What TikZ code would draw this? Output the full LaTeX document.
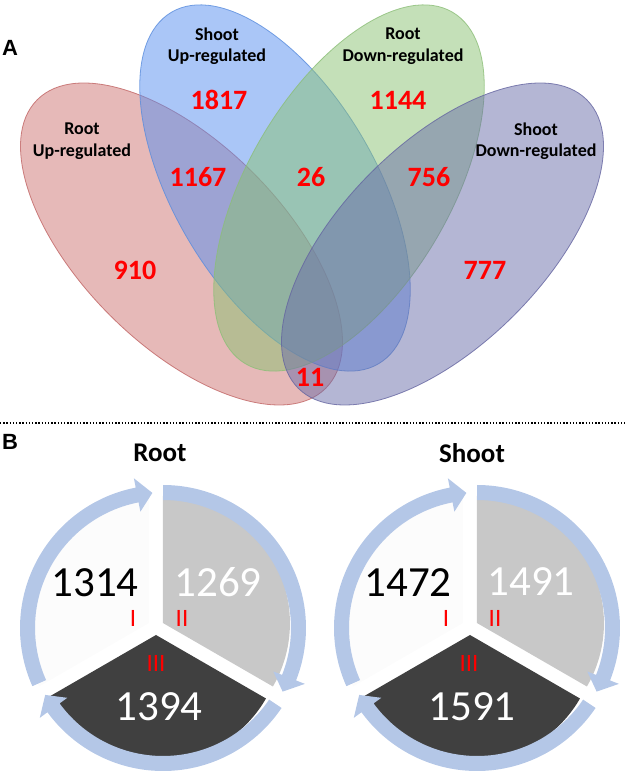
\documentclass[tikz,border=0pt]{standalone}
\usepackage{fontspec}
\setmainfont{Carlito}
\newfontfamily\panelfont{Liberation Sans}
\definecolor{vred}{RGB}{192,80,77}
\definecolor{vredline}{RGB}{192,100,100}
\definecolor{vblue}{RGB}{85,142,240}
\definecolor{vblueline}{RGB}{90,140,220}
\definecolor{vgreen}{RGB}{137,193,113}
\definecolor{vgreenline}{RGB}{140,190,120}
\definecolor{vpurple}{RGB}{105,109,169}
\definecolor{vpurpleline}{RGB}{100,100,160}
\definecolor{arrowblue}{RGB}{180,199,231}
\definecolor{secone}{RGB}{252,252,252}
\definecolor{sectwo}{RGB}{200,200,200}
\definecolor{secthree}{RGB}{64,64,64}
\definecolor{numred}{RGB}{255,0,0}
\newcommand{\ringarrow}[2]{%
  \fill[arrowblue] (#1:143) arc[start angle=#1, end angle={#2+6.5}, radius=143]
    -- ({#2+6.5}:152.5) -- (#2:135.5) -- ({#2+6.5}:118.5) -- ({#2+6.5}:128)
    arc[start angle={#2+6.5}, end angle=#1, radius=128] -- cycle;}
\newcommand{\pieset}[8]{%
  \begin{scope}[shift={(#1,0)}]
    \begin{scope}[shift={(156,152)}]
      \fill[secone] (-6.93,4) -- ++(90:127) arc[start angle=90, end angle=210, radius=127] -- cycle;
      \fill[sectwo] (6.93,4) -- ++(-30:127) arc[start angle=-30, end angle=90, radius=127] -- cycle;
      \fill[secthree] (0,-8) -- ++(210:127) arc[start angle=210, end angle=330, radius=127] -- cycle;
    \end{scope}
    \begin{scope}[shift={(163,151)}]
      \ringarrow{204}{94.5}
      \ringarrow{90}{-28}
      \ringarrow{-34}{-150.4}
    \end{scope}
    \node[pietitle] (#2title) at (#3,326) {#4};
    \node[bignum, text=black] (#2one) at (#5,196) {#6};
    \node[bignum, text=white] (#2two) at ({#5+123},197) {#7};
    \node[bignum, text=white] (#2three) at ({#5+64},72) {#8};
    \node[roman] (#2r1) at ({#5+38},161) {I};
    \node[roman] (#2r2) at ({#5+87},161) {II};
    \node[roman] (#2r3) at ({#5+61},116) {III};
  \end{scope}}
\begin{document}
\begin{tikzpicture}[x=1pt,y=1pt,
  vlabel/.style={font=\bfseries\fontsize{18}{21.5}\selectfont, align=center, text=black, inner sep=0pt},
  vnum/.style={font=\bfseries\fontsize{28}{28}\selectfont, text=numred, inner sep=0pt},
  panel/.style={font=\panelfont\bfseries\fontsize{22}{22}\selectfont, inner sep=0pt},
  pietitle/.style={font=\bfseries\fontsize{27}{27}\selectfont, inner sep=0pt},
  bignum/.style={font=\fontsize{43}{43}\selectfont, inner sep=0pt},
  roman/.style={font=\fontsize{25}{25}\selectfont, text=numred, inner sep=0pt},
  vset/.style={line width=0.8pt, fill opacity=#1, draw opacity=0.8}
]
\useasboundingbox (0,0) rectangle (625,779);
% Venn diagram
\draw[vset=0.4, fill=vred, draw=vredline, rotate around={-45:(181.5,535)}] (181.5,535) ellipse [x radius=204, y radius=101];
\draw[vset=0.5, fill=vblue, draw=vblueline, rotate around={-59.5:(275,591)}] (275,591) ellipse [x radius=204, y radius=101];
\draw[vset=0.5, fill=vgreen, draw=vgreenline, rotate around={59.5:(349,591)}] (349,591) ellipse [x radius=204, y radius=101];
\draw[vset=0.5, fill=vpurple, draw=vpurpleline, rotate around={45:(442.5,535)}] (442.5,535) ellipse [x radius=204, y radius=101];
\node[panel] (lblA) at (10,731) {A};
\node[vlabel] (rootup) at (82,638) {Root\\Up-regulated};
\node[vlabel] (shootup) at (217,733) {Shoot\\Up-regulated};
\node[vlabel] (rootdown) at (403,733) {Root\\Down-regulated};
\node[vlabel] (shootdown) at (536,638) {Shoot\\Down-regulated};
\node[vnum] (n1817) at (219,679) {1817};
\node[vnum] (n1144) at (398,679) {1144};
\node[vnum] (n1167) at (198,602) {1167};
\node[vnum] (n26) at (311,602) {26};
\node[vnum] (n756) at (429,602) {756};
\node[vnum] (n910) at (135,509) {910};
\node[vnum] (n777) at (485,509) {777};
\node[vnum] (n11) at (310,402) {11};
% separator
\coordinate (sepL) at (0,356);
\coordinate (sepR) at (625,356);
\draw[line width=1.4pt, dash pattern=on 1.4pt off 1.8pt] (sepL) -- (sepR);
\node[panel] (lblB) at (10,337) {B};
% pies
\pieset{0}{root}{160}{Root}{95}{1314}{1269}{1394}
\pieset{314}{shoot}{158}{Shoot}{94}{1472}{1491}{1591}
\end{tikzpicture}
\end{document}
